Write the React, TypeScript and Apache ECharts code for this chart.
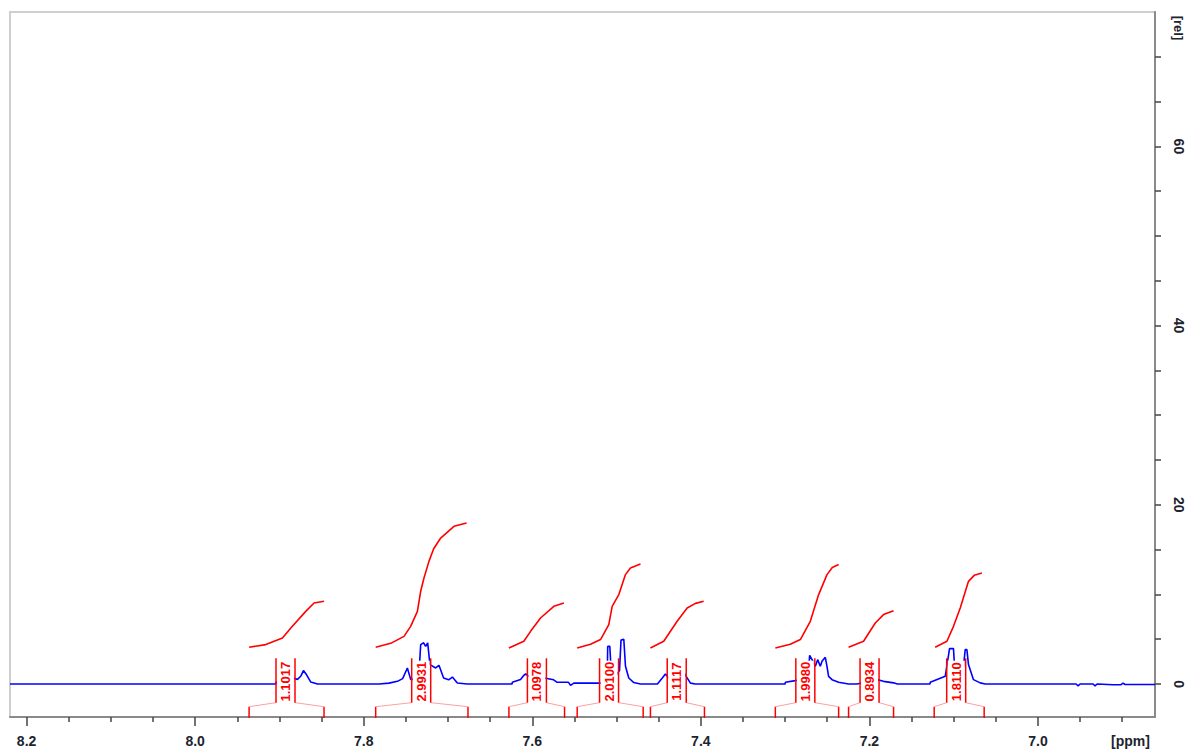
import React, { useEffect, useRef } from "react";
import * as echarts from "echarts";

// ---------- data ----------
const X_MIN = 6.8611;
const X_MAX = 8.2197;
const Y_MIN = -3.68;
const Y_MAX = 75;

const xMajorTicks = [7.0, 7.2, 7.4, 7.6, 7.8, 8.0, 8.2];
const xMinorTicks = [6.9, 6.95, 7.05, 7.1, 7.15, 7.25, 7.3, 7.35, 7.45, 7.5, 7.55, 7.65, 7.7, 7.75, 7.85, 7.9, 7.95, 8.05, 8.1, 8.15];
const yTicks = [0, 5, 10, 15, 20, 25, 30, 35, 40, 45, 50, 55, 60, 65, 70];
const yLabels = [0, 20, 40, 60];

// spectrum: chemical shift (ppm) and relative intensity
const spectrumPpm = [
  8.2197, 7.9043, 7.9038, 7.888, 7.8845, 7.8786, 7.8745, 7.8715, 7.8676, 7.8628, 7.8549,
  7.7819, 7.77, 7.76, 7.7538, 7.7482, 7.7443, 7.7348, 7.7324, 7.7289, 7.7265, 7.7241, 7.7214,
  7.7146, 7.7107, 7.7052, 7.6992, 7.6948, 7.6889, 7.6771,
  7.624, 7.6237, 7.6139, 7.61, 7.6079, 7.602, 7.5902, 7.5842, 7.5747, 7.5704, 7.557, 7.5546, 7.5507,
  7.519, 7.5131, 7.5111, 7.5105, 7.508, 7.506, 7.5012, 7.4965, 7.4947, 7.4914, 7.4894, 7.4855, 7.4795, 7.4716,
  7.4515, 7.4455, 7.442, 7.4384, 7.4337, 7.4266, 7.4218, 7.4183, 7.4123, 7.4064,
  7.3, 7.2997, 7.2878, 7.2760, 7.2725, 7.2709, 7.268, 7.2641, 7.2614, 7.2582, 7.2562, 7.2523, 7.2503,
  7.2484, 7.2443, 7.2365, 7.2247,
  7.2147, 7.2049, 7.195, 7.191, 7.1832, 7.1713, 7.1669,
  7.128, 7.1278, 7.11, 7.1049, 7.1002, 7.0982, 7.0922, 7.0883, 7.0863, 7.0843, 7.0824, 7.0765, 7.0685, 7.0626,
  6.9547, 6.9523, 6.95, 6.9346, 6.9322, 6.9298, 6.9108, 6.9014, 6.899, 6.8966, 6.8611,
];
const spectrumRel = [
  0, 0, 0.22, 0.3, 0.67, 0.52, 0.9, 1.5, 1.0, 0.22, 0,
  0, 0.1, 0.3, 0.6, 1.79, 0.52, 0.52, 4.4, 4.6, 4.2, 4.6, 2.17,
  1.79, 2.09, 0.67, 0.47, 0.78, 0.11, 0,
  0, 0.19, 0.5, 0.97, 1.12, 0.75, 0.75, 0.64, 0.47, 0.19, 0.19, -0.15, 0.11,
  0.1, 0.3, 0.4, 4.2, 4.2, 0.8, 0.9, 1.5, 4.9, 5.0, 1.98, 0.67, 0.16, 0,
  0, 0.7, 1.12, 0.7, 0.55, 0.7, 1.6, 1.0, 0.1, 0,
  0, 0.19, 0.38, 0.6, 1.0, 3.2, 2.72, 1.98, 2.72, 1.98, 2.53, 2.98, 1.98,
  0.86, 0.49, 0.19, 0,
  0, 0.2, 0.97, 0.49, 0.3, 0.13, 0,
  0, 0.19, 0.86, 3.95, 3.95, 0.75, 1.2, 1.98, 3.84, 3.84, 2.17, 0.49, 0.13, 0,
  0, -0.2, 0, 0, -0.2, 0, -0.08, -0.08, 0.1, -0.05, -0.05,
];

// integral curves [ppm, rel]
const integral1 = [[7.936, 4.1], [7.9162, 4.4], [7.8964, 5.13], [7.8865, 6.25], [7.8688, 8.11], [7.8589, 9.04], [7.8471, 9.23]];
const integral2 = [[7.7858, 4.1], [7.768, 4.54], [7.7522, 5.32], [7.7443, 6.44], [7.7363, 8.11], [7.7324, 10.35], [7.7285, 11.83], [7.7226, 13.69], [7.717, 15.1], [7.7087, 16.29], [7.6929, 17.6], [7.6779, 17.97]];
const integral3 = [[7.6277, 4.02], [7.61, 4.77], [7.602, 5.88], [7.5902, 7.37], [7.5744, 8.67], [7.5625, 9.04]];
const integral4 = [[7.5467, 4.02], [7.5309, 4.43], [7.519, 4.96], [7.5092, 6.63], [7.5052, 8.67], [7.4973, 9.98], [7.4894, 12.21], [7.4835, 12.95], [7.4716, 13.39]];
const integral5 = [[7.4598, 4.02], [7.444, 4.77], [7.4281, 7.0], [7.4162, 8.48], [7.4064, 9.0], [7.3966, 9.23]];
const integral6 = [[7.3116, 4.02], [7.2938, 4.43], [7.2819, 4.96], [7.2701, 7.0], [7.2602, 9.98], [7.2503, 12.21], [7.244, 13.0], [7.2365, 13.33]];
const integral7 = [[7.2247, 4.1], [7.2069, 4.77], [7.193, 6.81], [7.1832, 7.75], [7.1713, 8.19]];
const integral8 = [[7.1219, 4.1], [7.108, 4.77], [7.1002, 6.44], [7.0922, 8.48], [7.0824, 11.46], [7.0756, 12.13], [7.0665, 12.39]];

// integration regions
const regionStart = [7.936, 7.7858, 7.6277, 7.5467, 7.4598, 7.3116, 7.2247, 7.1231];
const regionEnd = [7.8471, 7.6763, 7.5617, 7.4684, 7.3957, 7.2365, 7.1713, 7.0638];
const regionLabelPpm = [7.8928, 7.7318, 7.5945, 7.5089, 7.4286, 7.276, 7.1998, 7.097];
const regionValue = ["1.1017", "2.9931", "1.0978", "2.0100", "1.1117", "1.9980", "0.8934", "1.8110"];

const FONT = "'Liberation Sans', Arial, sans-serif";

export default function App() {
  const ref = useRef<HTMLDivElement>(null);

  useEffect(() => {
    if (!ref.current) return;
    const chart = echarts.init(ref.current, undefined, { renderer: "svg" });

    const integrals = [integral1, integral2, integral3, integral4, integral5, integral6, integral7, integral8];
    const regionData = regionStart.map((s, i) => [s, regionEnd[i], regionLabelPpm[i], i]);

    const renderRegion = (params: any, api: any) => {
      const s = api.value(0);
      const e = api.value(1);
      const l = api.value(2);
      const idx = api.value(3);
      const xs = api.coord([s, 0])[0];
      const xe = api.coord([e, 0])[0];
      const xl = api.coord([l, 0])[0];
      const yBr = api.coord([0, -2.53])[1];
      const yBot = api.coord([0, Y_MIN])[1] + 1;
      const yBoxTop = api.coord([0, 2.87])[1];
      const yBoxBot = api.coord([0, -2.08])[1];
      const yMid = api.coord([0, 0.26])[1];
      const half = 9.5;
      const red = "#ff0000";
      const pink = "#ffa0a0";
      return {
        type: "group",
        children: [
          { type: "line", shape: { x1: xs, y1: yBr, x2: xs, y2: yBot }, style: { stroke: red, lineWidth: 1.5 } },
          { type: "line", shape: { x1: xe, y1: yBr, x2: xe, y2: yBot }, style: { stroke: red, lineWidth: 1.5 } },
          { type: "line", shape: { x1: xs, y1: yBr, x2: xl - half, y2: yBoxBot }, style: { stroke: pink, lineWidth: 1 } },
          { type: "line", shape: { x1: xl + half, y1: yBoxBot, x2: xe, y2: yBr }, style: { stroke: pink, lineWidth: 1 } },
          { type: "rect", shape: { x: xl - half + 1, y: yMid - 21, width: 2 * half - 2, height: 42 }, style: { fill: "#ffffff" } },
          { type: "line", shape: { x1: xl - half, y1: yBoxTop, x2: xl - half, y2: yBoxBot }, style: { stroke: red, lineWidth: 1.5 } },
          { type: "line", shape: { x1: xl + half, y1: yBoxTop, x2: xl + half, y2: yBoxBot }, style: { stroke: red, lineWidth: 1.5 } },
          {
            type: "text",
            x: xl,
            y: yMid,
            rotation: Math.PI / 2,
            style: {
              text: regionValue[idx],
              fill: red,
              font: `bold 13px ${FONT}`,
              align: "center",
              verticalAlign: "middle",
            },
          },
        ],
      };
    };

    const option: any = {
      animation: false,
      backgroundColor: "#ffffff",
      grid: {
        left: 10,
        top: 12,
        right: 33,
        bottom: 34,
        show: true,
        borderColor: "#cfcfcf",
        borderWidth: 2,
      },
      xAxis: [
        {
          type: "value",
          min: X_MIN,
          max: X_MAX,
          inverse: true,
          position: "bottom",
          axisLine: { show: true, onZero: false, lineStyle: { color: "#8a8a8a", width: 2 } },
          axisTick: { show: true, length: 9, customValues: xMajorTicks, lineStyle: { color: "#444", width: 1.5 } },
          axisLabel: {
            customValues: xMajorTicks,
            formatter: (v: number) => v.toFixed(1),
            fontSize: 14,
            fontWeight: "bold",
            fontFamily: FONT,
            color: "#1c2430",
            margin: 17,
          },
          splitLine: { show: false },
        },
        {
          type: "value",
          min: X_MIN,
          max: X_MAX,
          inverse: true,
          position: "bottom",
          axisLine: { show: false, onZero: false },
          axisTick: { show: true, length: 5, customValues: xMinorTicks, lineStyle: { color: "#444", width: 1.5 } },
          axisLabel: { show: false },
          splitLine: { show: false },
        },
      ],
      yAxis: {
        type: "value",
        position: "right",
        min: Y_MIN,
        max: Y_MAX,
        axisLine: { show: true, onZero: false, lineStyle: { color: "#8a8a8a", width: 2 } },
        axisTick: { show: true, length: 6, customValues: yTicks, lineStyle: { color: "#444", width: 1.5 } },
        axisLabel: {
          customValues: yLabels,
          rotate: -90,
          fontSize: 14,
          fontWeight: "bold",
          fontFamily: FONT,
          color: "#1c2430",
          margin: 17,
        },
        splitLine: { show: false },
      },
      series: [
        {
          type: "line",
          xAxisIndex: 0,
          data: spectrumPpm.map((p, i) => [p, spectrumRel[i]]),
          showSymbol: false,
          lineStyle: { color: "#0000ff", width: 1.6 },
          z: 3,
        },
        ...integrals.map((d) => ({
          type: "line",
          xAxisIndex: 0,
          data: d,
          showSymbol: false,
          lineStyle: { color: "#ff0000", width: 1.6 },
          z: 4,
        })),
        {
          type: "custom",
          xAxisIndex: 0,
          renderItem: renderRegion,
          data: regionData,
          encode: { x: [0, 1, 2] },
          z: 5,
        },
      ],
      graphic: [
        {
          type: "text",
          left: 1111,
          top: 734,
          style: { text: "[ppm]", font: `bold 14px ${FONT}`, fill: "#1c2430" },
        },
        {
          type: "text",
          x: 1178,
          y: 28,
          rotation: -Math.PI / 2,
          style: { text: "[rel]", font: `bold 13px ${FONT}`, fill: "#1c2430", align: "center", verticalAlign: "middle" },
        },
      ],
    };

    chart.setOption(option);
    return () => chart.dispose();
  }, []);

  return (
    <div
      ref={ref}
      style={{ position: "absolute", left: 0, top: 0, width: 1188, height: 751, background: "#fff" }}
    />
  );
}
